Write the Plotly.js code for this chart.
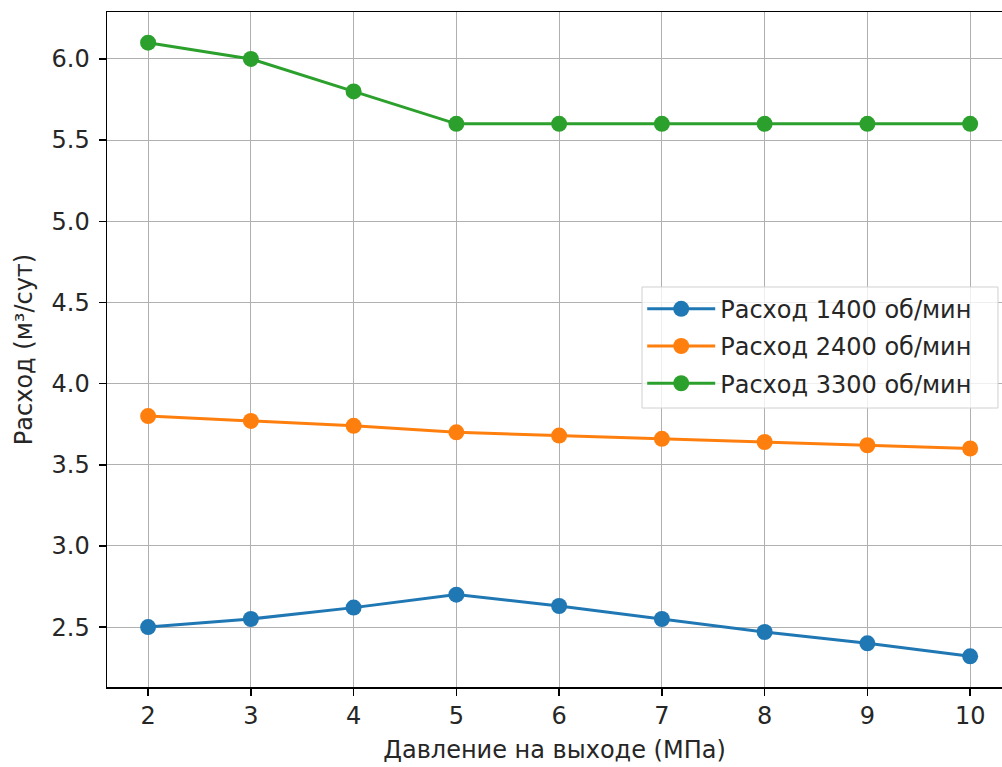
<!DOCTYPE html>
<html>
<head>
<meta charset="utf-8">
<script src="https://cdn.plot.ly/plotly-3.0.1.min.js"></script>
<style>html,body{margin:0;padding:0;background:#fff;}#chart{width:1002px;height:767px;}</style>
</head>
<body>
<div id="chart"></div>
<script>
const pressure = [2, 3, 4, 5, 6, 7, 8, 9, 10];
const flow1400 = [2.50, 2.55, 2.62, 2.70, 2.63, 2.55, 2.47, 2.40, 2.32];
const flow2400 = [3.80, 3.77, 3.74, 3.70, 3.68, 3.66, 3.64, 3.62, 3.60];
const flow3300 = [6.10, 6.00, 5.80, 5.60, 5.60, 5.60, 5.60, 5.60, 5.60];
const seriesNames = ['Расход 1400 об/мин', 'Расход 2400 об/мин', 'Расход 3300 об/мин'];
const seriesColors = ['#1f77b4', '#ff7f0e', '#2ca02c'];
const yTicks = [2.5, 3.0, 3.5, 4.0, 4.5, 5.0, 5.5, 6.0];

const allY = [flow1400, flow2400, flow3300];
const traces = allY.map((ys, i) => ({
  x: pressure, y: ys, name: seriesNames[i], type: 'scatter', mode: 'lines+markers',
  legendgroup: 'g' + i,
  line: {color: seriesColors[i], width: 3},
  marker: {color: seriesColors[i], size: 16}
}));

const font = {family: 'DejaVu Sans', size: 24, color: '#262626'};
const layout = {
  width: 1002, height: 767,
  margin: {l: 107, r: 0, t: 12, b: 80},
  paper_bgcolor: '#fff', plot_bgcolor: '#fff',
  font: font,
  showlegend: true,
  legend: {x: 0.598, y: 0.593, xanchor: 'left', yanchor: 'top',
    bgcolor: 'rgba(0,0,0,0)', borderwidth: 0,
    itemwidth: 68, traceorder: 'grouped', tracegroupgap: 3,
    font: {family: 'DejaVu Sans', size: 24, color: '#262626'}},
  shapes: [{
    type: 'rect', xref: 'paper', yref: 'paper',
    x0: 0.5978, x1: 0.9955, y0: 0.4133, y1: 0.5926,
    layer: 'above', fillcolor: 'rgba(255,255,255,0.8)',
    line: {color: '#d0d0d0', width: 1}
  }],
  xaxis: {
    range: [1.6, 10.31], tickvals: pressure, ticktext: pressure.map(String),
    showgrid: true, gridcolor: '#b0b0b0', gridwidth: 1,
    showline: true, linecolor: '#000', linewidth: 1.5, mirror: true,
    ticks: 'outside', ticklen: 7, tickwidth: 1.5, tickcolor: '#000',
    zeroline: false,
    title: {text: 'Давление на выходе (МПа)', font: font, standoff: 12}
  },
  yaxis: {
    range: [2.131, 6.289], tickvals: yTicks, ticktext: yTicks.map(v => v.toFixed(1)),
    showgrid: true, gridcolor: '#b0b0b0', gridwidth: 1,
    showline: true, linecolor: '#000', linewidth: 1.5, mirror: false,
    ticks: 'outside', ticklen: 7, tickwidth: 1.5, tickcolor: '#000',
    ticklabelstandoff: 4,
    zeroline: false,
    title: {text: 'Расход (м³/сут)', font: font, standoff: 12}
  }
};
Plotly.newPlot('chart', traces, layout, {displayModeBar: false, staticPlot: true});
</script>
</body>
</html>
